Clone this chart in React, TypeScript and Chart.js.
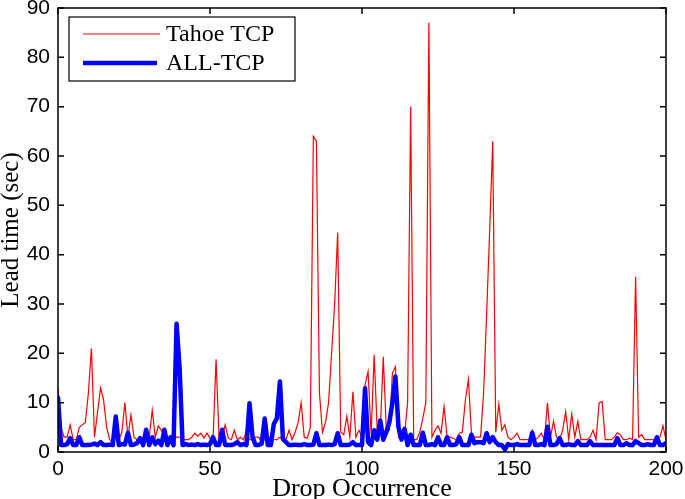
import React, { useEffect, useRef } from "react";
import { Chart, registerables } from "chart.js";

Chart.register(...registerables);

const xTicks = [0, 50, 100, 150, 200];
const yTicks = [0, 10, 20, 30, 40, 50, 60, 70, 80, 90];
const seriesNames = ["Tahoe TCP", "ALL-TCP"];

const tahoeTCP = [
  13, 5, 3, 3, 5.5, 2.5, 2.5, 5, 5.5, 6,
  12, 21, 3, 8, 13, 10.5, 5, 2.5, 2, 3,
  2.5, 4, 10, 3, 7.5, 3, 2.5, 3, 2.5, 3,
  3, 8.5, 3, 5.3, 4.4, 3, 2.5, 3, 2.5, 3,
  3, 2.5, 2.5, 2.5, 3, 3.8, 3.2, 3.8, 2.8, 3.8,
  2.8, 2.5, 18.8, 2.5, 3, 5.5, 2.8, 2.5, 4.4, 2.5,
  3, 2.5, 4.4, 2.5, 2.5, 3, 3, 2, 2.5, 3,
  3, 2.5, 2.5, 3, 2.5, 2.5, 4.4, 2.5, 4, 6,
  10, 3, 2.8, 5, 64, 63, 12, 4, 6, 10,
  20, 30, 44.5, 4, 3.5, 7.2, 3, 12.2, 3, 4.4,
  3, 13.6, 16.3, 3.5, 19.7, 4.4, 4.4, 19.3, 4.4, 4.4,
  16, 17.3, 3, 4, 3.5, 10, 70, 2.5, 2.5, 4,
  6.8, 10, 87, 3, 4.4, 5.3, 3.8, 9.2, 3, 3,
  2.8, 2.5, 3.8, 4, 10.5, 14.7, 3.8, 3, 3, 3,
  12, 28, 45, 63, 4, 9.7, 4.4, 5.5, 3, 2.5,
  3, 3.8, 2.5, 2.5, 2.5, 2.5, 4.4, 2.5, 3, 3.8,
  2.5, 9.9, 3, 6.2, 3, 2.5, 4.4, 8.2, 2.5, 7.7,
  3, 6.2, 2.5, 2.5, 2.5, 3, 4.4, 2.5, 10, 10.2,
  2.5, 2.5, 2.5, 3, 3.9, 3.5, 2.5, 2.5, 2.8, 2.5,
  35.5, 3, 3.5, 2.5, 2.5, 2.5, 2.5, 2.5, 3, 5.3,
  2.5,
];

const allTCP = [
  11, 1.4, 1.4, 1.6, 2.8, 1.4, 1.4, 3, 1.4, 1.4,
  1.4, 1.5, 1.7, 1.4, 2, 1.4, 1.4, 1.5, 1.4, 7.2,
  1.4, 1.6, 1.5, 3.9, 1.4, 1.5, 1.8, 2.8, 1.4, 4.5,
  1.4, 3, 1.6, 2.3, 1.4, 4.5, 1.4, 3, 1.4, 26,
  17, 1.4, 1.6, 1.4, 1.5, 1.4, 1.6, 1.4, 1.5, 1.4,
  1.6, 3, 1.4, 1.4, 4.5, 1.4, 1.4, 1.4, 1.6, 2,
  1.4, 1.6, 1.4, 9.9, 3, 1.4, 1.4, 1.7, 6.8, 1.4,
  1.4, 5.7, 6.8, 14.3, 2.6, 2, 1.4, 1.4, 1.5, 1.4,
  1.4, 1.6, 1.4, 1.4, 1.5, 3.8, 1.4, 1.4, 1.4, 1.5,
  1.4, 1.6, 3.8, 1.4, 1.4, 1.4, 1.5, 2, 1.4, 1.4,
  1.4, 12.9, 2, 1.4, 4.4, 2.5, 6.4, 2.5, 4, 6,
  10, 15.3, 5, 2.5, 4.7, 1.4, 3.5, 1.4, 1.4, 1.4,
  3.9, 1.4, 1.4, 1.6, 1.4, 3, 1.4, 1.4, 3, 1.4,
  1.4, 1.6, 3, 1.4, 1.4, 1.4, 3.5, 1.8, 2, 2,
  1.8, 3.8, 2, 3, 2, 1.4, 1.4, 0.5, 1.6, 1.4,
  1.4, 1.6, 1.4, 1.4, 1.4, 1.4, 3.9, 1.4, 1.4, 1.6,
  1.4, 5.1, 1.4, 1.4, 1.6, 2.8, 1.4, 1.4, 1.6, 1.4,
  1.4, 2.2, 1.4, 1.4, 1.4, 2.2, 1.4, 1.4, 1.4, 1.4,
  1.4, 1.4, 1.4, 1.4, 2.8, 1.4, 1.4, 1.8, 1.4, 1.4,
  2.2, 1.8, 1.4, 1.4, 1.6, 1.4, 1.4, 3, 1.4, 1.4,
  1.8,
];

const RED = "#ff0000";
const BLUE = "#0000ff";

const framePlugin = {
  id: "matlabFrame",
  afterDatasetsDraw(chart: any) {
    const { ctx, chartArea } = chart;
    const { left, right, top, bottom } = chartArea;
    const xs = chart.scales.x;
    const ys = chart.scales.y;
    ctx.save();
    ctx.strokeStyle = "#000";
    ctx.lineWidth = 1.5;
    ctx.strokeRect(left, top, right - left, bottom - top);
    const tl = 6;
    ctx.beginPath();
    for (const v of xTicks) {
      const px = xs.getPixelForValue(v);
      ctx.moveTo(px, bottom);
      ctx.lineTo(px, bottom - tl);
      ctx.moveTo(px, top);
      ctx.lineTo(px, top + tl);
    }
    for (const v of yTicks) {
      const py = ys.getPixelForValue(v);
      ctx.moveTo(left, py);
      ctx.lineTo(left + tl, py);
      ctx.moveTo(right, py);
      ctx.lineTo(right - tl, py);
    }
    ctx.stroke();

    // legend
    const bx = 69, by = 17, bw = 226, bh = 64;
    ctx.fillStyle = "#fff";
    ctx.fillRect(bx, by, bw, bh);
    ctx.lineWidth = 1.2;
    ctx.strokeStyle = "#000";
    ctx.strokeRect(bx, by, bw, bh);
    ctx.lineCap = "butt";
    ctx.strokeStyle = RED;
    ctx.lineWidth = 1.2;
    ctx.beginPath();
    ctx.moveTo(83, 34);
    ctx.lineTo(160, 34);
    ctx.stroke();
    ctx.strokeStyle = BLUE;
    ctx.lineWidth = 4.5;
    ctx.beginPath();
    ctx.moveTo(83, 63);
    ctx.lineTo(157, 63);
    ctx.stroke();
    ctx.fillStyle = "#000";
    ctx.font = "24px 'Liberation Serif'";
    ctx.textBaseline = "middle";
    ctx.textAlign = "left";
    ctx.fillText(seriesNames[0], 166, 35);
    ctx.fillText(seriesNames[1], 166, 64);
    ctx.restore();
  },
};

export default function App() {
  const ref = useRef<HTMLCanvasElement | null>(null);
  useEffect(() => {
    if (!ref.current) return;
    const chart = new Chart(ref.current, {
      type: "line",
      data: {
        datasets: [
          {
            label: seriesNames[1],
            data: allTCP.map((y, i) => ({ x: i, y })),
            borderColor: BLUE,
            backgroundColor: BLUE,
            borderWidth: 4.5,
            pointRadius: 0,
            tension: 0,
            borderJoinStyle: "round",
            borderCapStyle: "round",
            order: 0,
          },
          {
            label: seriesNames[0],
            data: tahoeTCP.map((y, i) => ({ x: i, y })),
            borderColor: RED,
            backgroundColor: RED,
            borderWidth: 1.2,
            pointRadius: 0,
            tension: 0,
            order: 1,
          },
        ],
      },
      plugins: [framePlugin],
      options: {
        animation: false,
        responsive: true,
        maintainAspectRatio: false,
        layout: { padding: { left: 0, right: 19, top: 8, bottom: 0 } },
        plugins: {
          legend: { display: false },
          tooltip: { enabled: false },
        },
        scales: {
          x: {
            type: "linear",
            min: 0,
            max: 200,
            afterBuildTicks: (s: any) => {
              s.ticks = xTicks.map((v) => ({ value: v }));
            },
            afterFit: (s: any) => {
              s.height = 47;
              s.paddingLeft = 0;
              s.paddingRight = 0;
            },
            grid: { display: false, drawTicks: false },
            border: { display: false },
            ticks: {
              autoSkip: false,
              maxRotation: 0,
              padding: 5,
              color: "#000",
              font: { family: "'Liberation Sans'", size: 21 },
            },
            title: {
              display: true,
              text: "Drop Occurrence",
              color: "#000",
              padding: { top: 0, bottom: -4 },
              font: { family: "'Liberation Serif'", size: 26, lineHeight: 1.1 },
            },
          },
          y: {
            type: "linear",
            min: 0,
            max: 90,
            afterBuildTicks: (s: any) => {
              s.ticks = yTicks.map((v) => ({ value: v }));
            },
            afterFit: (s: any) => {
              s.width = 58;
              s.paddingTop = 0;
              s.paddingBottom = 0;
            },
            grid: { display: false, drawTicks: false },
            border: { display: false },
            ticks: {
              padding: 8,
              color: "#000",
              font: { family: "'Liberation Sans'", size: 21 },
            },
            title: {
              display: true,
              text: "Lead time (sec)",
              color: "#000",
              padding: { top: -2, bottom: 0 },
              font: { family: "'Liberation Serif'", size: 25, lineHeight: 1.1 },
            },
          },
        },
      },
    });
    return () => chart.destroy();
  }, []);
  return (
    <div style={{ position: "absolute", left: 0, top: 0, width: 685, height: 499, background: "#fff" }}>
      <canvas ref={ref} />
    </div>
  );
}
